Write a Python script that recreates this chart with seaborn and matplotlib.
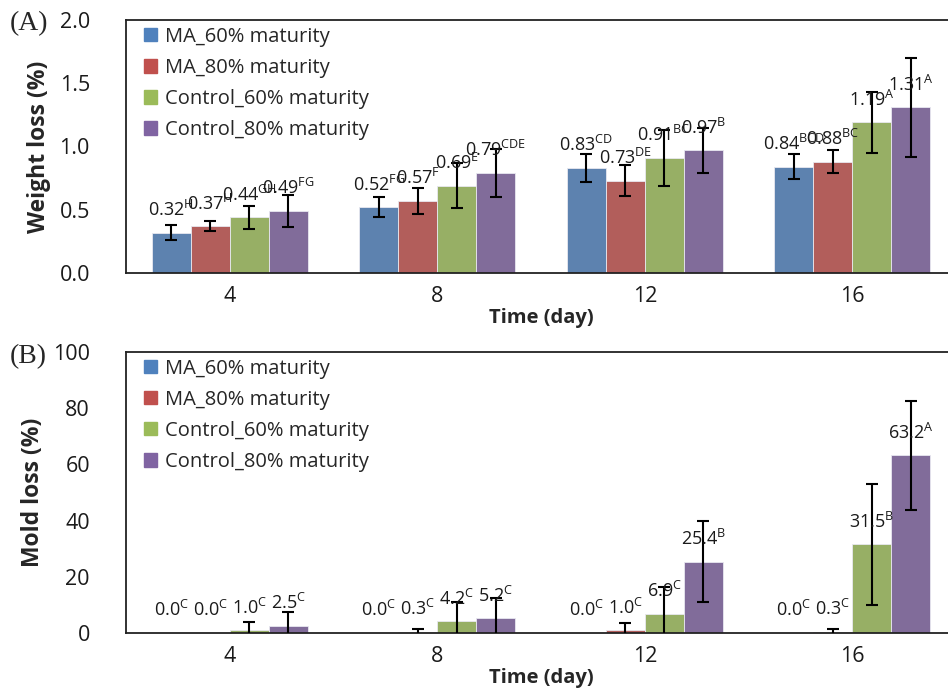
import pandas as pd
import matplotlib
matplotlib.use("Agg")
import matplotlib.pyplot as plt
import seaborn as sns

# --- data ---
days = ["4", "8", "12", "16"]
groups = ["MA_60% maturity", "MA_80% maturity",
          "Control_60% maturity", "Control_80% maturity"]
colors = ["#4F81BD", "#C0504D", "#9BBB59", "#8064A2"]

# weight loss (%), one list per group, in day order
weight_ma60 = [0.32, 0.52, 0.83, 0.84]
weight_ma80 = [0.37, 0.57, 0.73, 0.88]
weight_c60 = [0.44, 0.69, 0.91, 1.19]
weight_c80 = [0.49, 0.79, 0.97, 1.31]
weight_err_ma60 = [0.06, 0.08, 0.11, 0.10]
weight_err_ma80 = [0.04, 0.10, 0.12, 0.09]
weight_err_c60 = [0.09, 0.18, 0.22, 0.24]
weight_err_c80 = [0.13, 0.19, 0.18, 0.39]
weight_let_ma60 = ["H", "FG", "CD", "BCD"]
weight_let_ma80 = ["H", "F", "DE", "BC"]
weight_let_c60 = ["GH", "E", "BC", "A"]
weight_let_c80 = ["FG", "CDE", "B", "A"]

# mold loss (%)
mold_ma60 = [0.0, 0.0, 0.0, 0.0]
mold_ma80 = [0.0, 0.3, 1.0, 0.3]
mold_c60 = [1.0, 4.2, 6.9, 31.5]
mold_c80 = [2.5, 5.2, 25.4, 63.2]
mold_err_ma60 = [0.0, 0.0, 0.0, 0.0]
mold_err_ma80 = [0.0, 1.2, 2.5, 1.2]
mold_err_c60 = [2.8, 7.0, 9.5, 21.7]
mold_err_c80 = [5.0, 7.3, 14.4, 19.4]
mold_let_ma60 = ["C", "C", "C", "C"]
mold_let_ma80 = ["C", "C", "C", "C"]
mold_let_c60 = ["C", "C", "C", "B"]
mold_let_c80 = ["C", "C", "B", "A"]


def long_table(cols):
    rows = []
    for g, vals in zip(groups, cols):
        for d, v in zip(days, vals):
            rows.append({"day": d, "group": g, "value": v})
    return pd.DataFrame(rows)


def draw_panel(ax, vals, errs, lets, fmt, ylim, yticks, ytick_fmt, ylabel):
    df = long_table(vals)
    sns.barplot(data=df, x="day", y="value", hue="group", order=days,
                hue_order=groups, palette=colors, width=0.75, errorbar=None,
                edgecolor="#e8e8f0", linewidth=0.6, ax=ax)

    for cont, e, l in zip(ax.containers, errs, lets):
        xs = [p.get_x() + p.get_width() / 2 for p in cont]
        ys = [p.get_height() for p in cont]
        show = [i for i, v in enumerate(e) if v > 0]
        ax.errorbar([xs[i] for i in show], [ys[i] for i in show],
                    yerr=[e[i] for i in show], fmt="none", ecolor="black",
                    elinewidth=1.5, capsize=4, capthick=1.5, zorder=4)
        for x, y, letter in zip(xs, ys, l):
            ax.annotate(fmt.format(y) + r"$^{\mathrm{" + letter + "}}$",
                        (x, y), xytext=(0, 12), textcoords="offset points",
                        ha="center", va="baseline", fontsize=13,
                        color="#1a1a1a", zorder=5)

    ax.set_xlim(-0.5, 3.5)
    ax.set_ylim(*ylim)
    ax.set_yticks(yticks)
    ax.set_yticklabels([ytick_fmt.format(t) for t in yticks])
    ax.tick_params(axis="y", direction="in", length=6, color="#888888",
                   labelsize=15.5, pad=26, labelcolor="#1a1a1a")
    ax.tick_params(axis="x", length=0, labelsize=15.5, pad=9,
                   labelcolor="#1a1a1a")
    for s in ax.spines.values():
        s.set_visible(True)
        s.set_color("#222222")
        s.set_linewidth(1.3)
    ax.set_xlabel("Time (day)", fontsize=14.5, fontweight="bold", labelpad=1)
    ax.set_ylabel(ylabel, fontsize=16.5, fontweight="bold", labelpad=6)

    handles = [plt.Rectangle((0, 0), 1, 1, color=c) for c in colors]
    ax.legend(handles, groups, loc="upper left", frameon=False, fontsize=14.5,
              handlelength=0.65, handleheight=0.65, handletextpad=0.4,
              labelspacing=0.55, borderaxespad=0.0,
              bbox_to_anchor=(0.012, 1.005))


sns.set_style("white")
plt.rcParams["font.family"] = ["Open Sans", "DejaVu Sans"]
plt.rcParams["mathtext.fontset"] = "custom"
plt.rcParams["mathtext.rm"] = "Open Sans"

fig = plt.figure(figsize=(9.48, 7.0), dpi=100)
ax_a = fig.add_axes([126 / 948, 1 - 273 / 700, 830 / 948, 253 / 700])
ax_b = fig.add_axes([126 / 948, 1 - 633 / 700, 830 / 948, 281 / 700])

draw_panel(ax_a,
           [weight_ma60, weight_ma80, weight_c60, weight_c80],
           [weight_err_ma60, weight_err_ma80, weight_err_c60, weight_err_c80],
           [weight_let_ma60, weight_let_ma80, weight_let_c60, weight_let_c80],
           "{:.2f}", (0, 2.0), [0, 0.5, 1.0, 1.5, 2.0], "{:.1f}",
           "Weight loss (%)")
draw_panel(ax_b,
           [mold_ma60, mold_ma80, mold_c60, mold_c80],
           [mold_err_ma60, mold_err_ma80, mold_err_c60, mold_err_c80],
           [mold_let_ma60, mold_let_ma80, mold_let_c60, mold_let_c80],
           "{:.1f}", (0, 100), [0, 20, 40, 60, 80, 100], "{:.0f}",
           "Mold loss (%)")

fig.text(10 / 948, 1 - 24 / 700, "(A)", fontsize=20,
         family="Liberation Serif", ha="left", va="center")
fig.text(10 / 948, 1 - 357 / 700, "(B)", fontsize=20,
         family="Liberation Serif", ha="left", va="center")

fig.savefig("out.png", dpi=100)
